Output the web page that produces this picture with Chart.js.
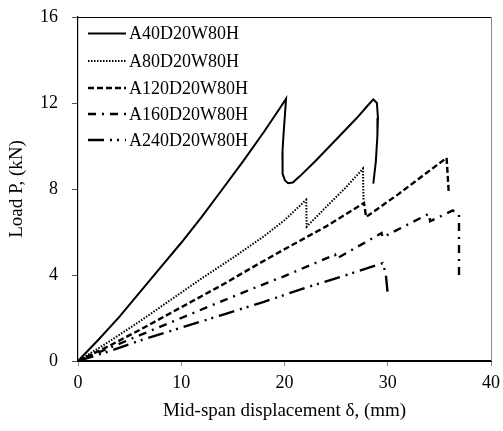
<!DOCTYPE html>
<html>
<head>
<meta charset="utf-8">
<script src="https://cdn.jsdelivr.net/npm/chart.js@4.4.0/dist/chart.umd.min.js"></script>
<style>
html,body{margin:0;padding:0;background:#fff;}
#c{display:block;}
</style>
</head>
<body>
<canvas id="c" width="503" height="431"></canvas>
<script>
const seriesNames = ['A40D20W80H','A80D20W80H','A120D20W80H','A160D20W80H','A240D20W80H'];

const xA40 = [0,2,4,6,8,10,12,14,16,18,19.5,20.15,20.05,19.9,19.8,19.78,19.85,20.05,20.35,20.8,21.5,23,25,27,28,28.6,28.95,29.05,29.0,28.85,28.6];
const yA40 = [0,1.0,2.05,3.2,4.35,5.5,6.72,8.0,9.3,10.65,11.72,12.2,11.5,10.5,9.7,9.1,8.7,8.4,8.27,8.3,8.6,9.3,10.3,11.3,11.85,12.17,12.0,11.3,10.5,9.3,8.25];

const xA80 = [0,3,6,9,12,15,18,20,22.1,22.15,24,26,27.6,27.65];
const yA80 = [0,0.9,1.85,2.85,3.85,4.8,5.8,6.55,7.5,6.25,7.15,8.1,8.95,7.5];

const xA120 = [0,3,6,10,14,17.6,20,24,27.7,27.9,31,35.7,35.9];
const yA120 = [0,0.7,1.45,2.5,3.55,4.55,5.2,6.25,7.35,6.7,7.75,9.45,7.9];

const xA160 = [0,3,6,10,14,17.6,20,24.9,25.0,29.4,29.5,34.0,34.1,36.3,36.9,36.9];
const yA160 = [0,0.6,1.2,2.0,2.8,3.5,3.95,4.95,4.75,5.95,5.75,6.85,6.5,7.0,6.8,3.8];

const xA240 = [0,3,6,10,14,18,22,26,29.5,29.8,30.0];
const yA240 = [0,0.45,0.95,1.55,2.15,2.75,3.4,4.0,4.55,4.1,3.1];

const xTicks = [0,10,20,30,40];
const yTicks = [0,4,8,12,16];

const xs = [xA40,xA80,xA120,xA160,xA240];
const ys = [yA40,yA80,yA120,yA160,yA240];
const dashes = [[],[1.5,1.5],[6,3],[8,6,2,6],[16,6,2,5,2,6]];
const widths = [2,2,2.4,2.4,2.4];

function pts(xa, ya){ return xa.map((v,i)=>({x:v,y:ya[i]})); }

const datasets = seriesNames.map((n,i)=>({
  label:n,
  data:pts(xs[i],ys[i]),
  borderColor:'#000',
  backgroundColor:'#000',
  borderWidth:widths[i],
  borderDash:dashes[i],
  pointRadius:0,
  tension:0,
  fill:false
}));

const SERIF = '"Liberation Serif","Times New Roman",serif';

const framePlugin = {
  id:'frame',
  afterDraw(chart){
    const {ctx, chartArea:a} = chart;
    ctx.save();
    ctx.lineWidth = 1;
    ctx.strokeStyle = '#000';
    ctx.beginPath();
    ctx.moveTo(a.left, a.top+0.5);
    ctx.lineTo(a.right, a.top+0.5);
    ctx.stroke();
    ctx.strokeStyle = '#8a8a8a';
    ctx.beginPath();
    ctx.moveTo(a.right+0.5, a.top);
    ctx.lineTo(a.right+0.5, a.bottom);
    ctx.stroke();
    // legend
    const x0 = a.left + 10, len = 38;
    const rowY = [33.5, 61, 88, 114, 140];
    ctx.font = '18px ' + SERIF;
    ctx.textBaseline = 'middle';
    ctx.fillStyle = '#000';
    chart.data.datasets.forEach((d,i)=>{
      const y = rowY[i];
      ctx.lineWidth = d.borderWidth;
      ctx.strokeStyle = '#000';
      ctx.setLineDash(d.borderDash);
      ctx.beginPath();
      ctx.moveTo(x0, y);
      ctx.lineTo(x0+len, y);
      ctx.stroke();
      ctx.setLineDash([]);
      ctx.fillText(d.label, x0+len+3, y+1);
    });
    ctx.restore();
  }
};

function zeroPad(s){ s.paddingTop = 0; s.paddingBottom = 0; s.paddingLeft = 0; s.paddingRight = 0; }

new Chart(document.getElementById('c'), {
  type:'line',
  data:{datasets},
  options:{
    responsive:false,
    animation:false,
    layout:{padding:{top:17,right:12,left:0,bottom:0}},
    plugins:{legend:{display:false},tooltip:{enabled:false}},
    scales:{
      x:{
        type:'linear', min:0, max:40,
        afterBuildTicks(s){ s.ticks = xTicks.map(v=>({value:v})); },
        afterFit(s){ s.height = 70; zeroPad(s); },
        ticks:{color:'#000', font:{family:SERIF,size:18}, padding:6},
        grid:{drawOnChartArea:false, drawTicks:true, tickLength:5, color:'#888'},
        border:{color:'#000', width:2},
        title:{display:true, text:'Mid-span displacement δ, (mm)', color:'#000', font:{family:SERIF,size:19}, padding:{top:0,bottom:9}}
      },
      y:{
        type:'linear', min:0, max:16,
        afterBuildTicks(s){ s.ticks = yTicks.map(v=>({value:v})); },
        afterFit(s){ s.width = 78; zeroPad(s); },
        ticks:{color:'#000', font:{family:SERIF,size:18}, padding:14},
        grid:{drawOnChartArea:false, drawTicks:true, tickLength:6, color:'#555'},
        border:{color:'#000', width:1.2},
        title:{display:true, text:'Load P, (kN)', color:'#000', font:{family:SERIF,size:19}, padding:{top:6,bottom:0}}
      }
    }
  },
  plugins:[framePlugin]
});
</script>
</body>
</html>
